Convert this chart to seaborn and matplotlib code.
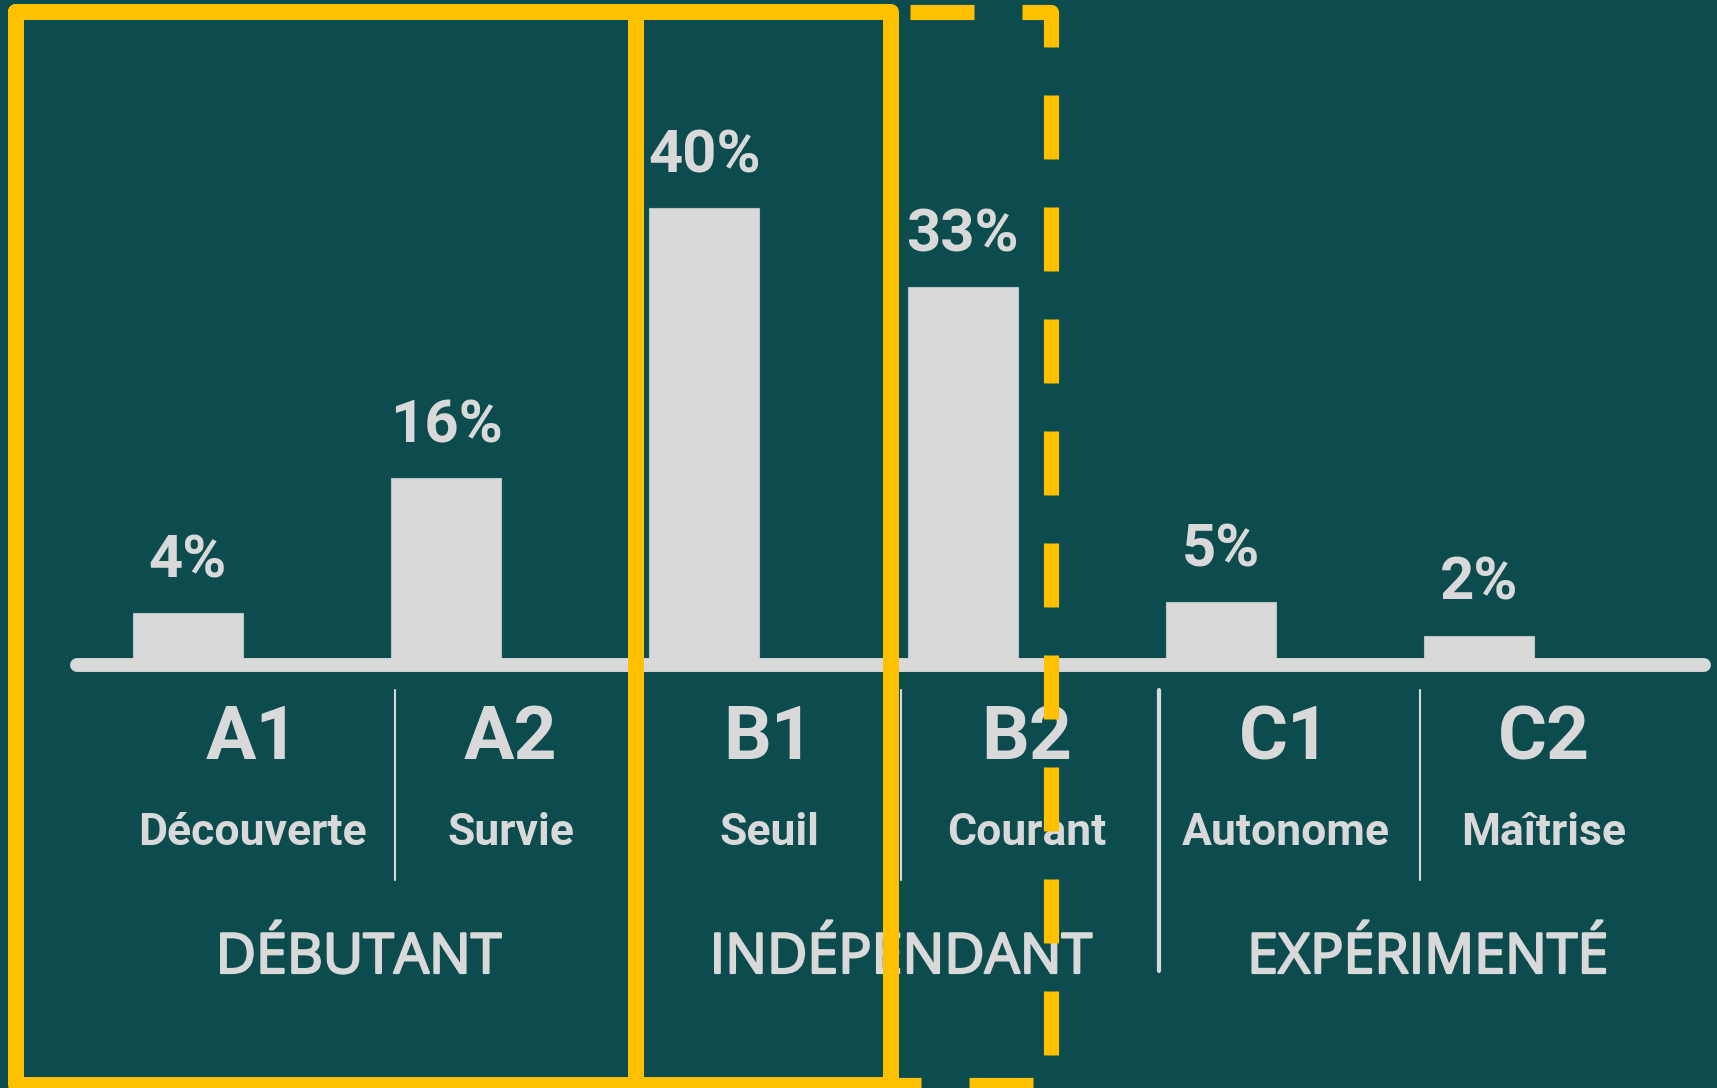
import matplotlib
matplotlib.use("Agg")
import matplotlib.pyplot as plt
import matplotlib.patheffects as pe
import seaborn as sns
import pandas as pd

levels = ["A1", "A2", "B1", "B2", "C1", "C2"]
level_names = ["Découverte", "Survie", "Seuil", "Courant", "Autonome", "Maîtrise"]
shares = [4, 16, 40, 33, 5, 2]
groups = ["DÉBUTANT", "INDÉPENDANT", "EXPÉRIMENTÉ"]

BG = "#0C4C4F"
LIGHT = "#D9D9D9"
YELLOW = "#FFC000"

sns.set_theme(style="white")
plt.rcParams["lines.scale_dashes"] = False

df = pd.DataFrame({"level": levels, "share": shares})

W, H = 1717, 1088
fig = plt.figure(figsize=(W / 100, H / 100), dpi=100)
fig.patch.set_facecolor(BG)
ax = fig.add_axes([0, 0, 1, 1])
ax.set_facecolor(BG)

sns.barplot(data=df, x="level", y="share", color=LIGHT, saturation=1,
            width=0.426, ax=ax, edgecolor="#B8C4C4", linewidth=0.8)

# pixel geometry -> data scale
step = 258.2   # px per category
unit = 11.25   # px per percent
x0, base = 188, 658
ax.set_xlim(-x0 / step, (W - x0) / step)
ax.set_ylim(-(H - base) / unit, base / unit)
ax.axis("off")

ax.bar_label(ax.containers[0], labels=[f"{v}%" for v in shares], padding=17,
             fontsize=43, fontweight="bold", color=LIGHT, family="Roboto")

# baseline bar
ax.axhline(-7 / unit, xmin=77 / W, xmax=1704 / W, color=LIGHT, lw=10,
           solid_capstyle="round", zorder=1)

def py(p):
    return (base - p) / unit

for i, (lv, nm) in enumerate(zip(levels, level_names)):
    ax.text(i + 0.25, py(759), lv, ha="center", va="baseline", fontsize=54,
            fontweight="bold", color=LIGHT, family="Roboto")
    ax.text(i + 0.25, py(845), nm, ha="center", va="baseline", fontsize=32,
            fontweight="bold", color=LIGHT, family="Roboto")

group_x = [0.66, 2.76, 4.8]
for gx, name in zip(group_x, groups):
    ax.text(gx, py(973), name, ha="center", va="baseline", fontsize=40,
            color=LIGHT, family="Open Sans",
            path_effects=[pe.withStroke(linewidth=1.6, foreground=LIGHT)])

# separators between columns
sep_x = [0.8, 1.72, 2.76, 3.76, 4.77]
for k, sx in enumerate(sep_x):
    long_sep = k in (1, 3)
    ax.plot([sx, sx], [py(690), py(971 if long_sep else 880)],
            color=LIGHT, lw=3 if long_sep else 1.5)

# yellow highlight overlay
ov = fig.add_axes([0, 0, 1, 1], zorder=5)
ov.set_xlim(0, W)
ov.set_ylim(H, 0)
ov.axis("off")
ov.patch.set_alpha(0)
lw = 11.5
ov.plot([16, 891, 891, 16, 16], [12, 12, 1085, 1085, 12], color=YELLOW, lw=lw,
        solid_joinstyle="round", solid_capstyle="round")
ov.plot([636, 636], [12, 1085], color=YELLOW, lw=lw)
ov.plot([891, 1051, 1051, 891], [12, 12, 1085, 1085], color=YELLOW, lw=lw * 0.95,
        linestyle=(93 * 0.72, (64 * 0.72, 48 * 0.72)), dash_joinstyle="round")

fig.savefig("out.png", dpi=100, facecolor=BG)
